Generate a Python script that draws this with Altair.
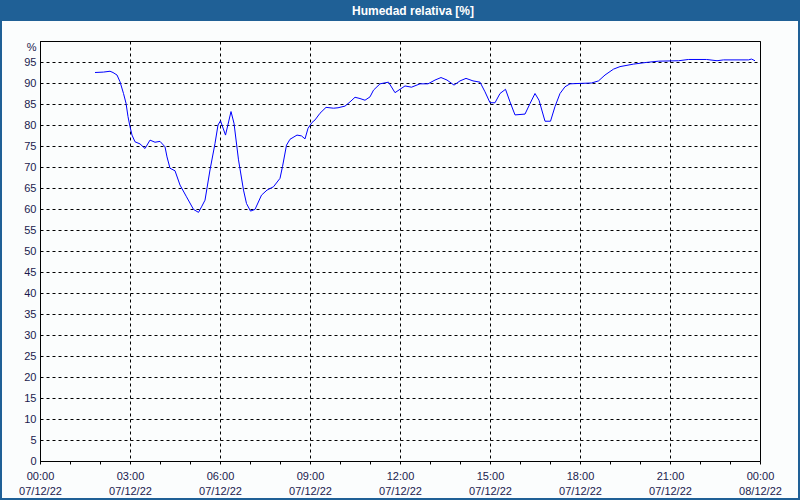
import altair as alt
import pandas as pd

# ---- data ----
times = ["01:50", "02:07", "02:20", "02:26", "02:34", "02:40", "02:47", "02:52", "02:56", "03:00",
         "03:04", "03:10", "03:20", "03:30", "03:40", "03:50", "04:00", "04:10", "04:14", "04:20",
         "04:30", "04:40", "04:53", "05:07", "05:17", "05:23", "05:30", "05:40", "05:50", "05:56",
         "06:01", "06:11", "06:22", "06:28", "06:37", "06:47", "06:53", "07:01", "07:10", "07:23",
         "07:34", "07:47", "08:00", "08:05", "08:13", "08:20", "08:34", "08:43", "08:50", "08:56",
         "09:04", "09:10", "09:20", "09:32", "09:47", "09:56", "10:10", "10:20", "10:30", "10:40",
         "10:50", "11:00", "11:07", "11:20", "11:37", "11:50", "12:00", "12:10", "12:23", "12:40",
         "12:56", "13:10", "13:22", "13:34", "13:48", "14:00", "14:12", "14:26", "14:40", "14:50",
         "15:00", "15:10", "15:20", "15:31", "15:40", "15:50", "16:10", "16:20", "16:30", "16:38",
         "16:50", "17:01", "17:10", "17:20", "17:30", "17:40", "18:00", "18:23", "18:37", "18:50",
         "19:07", "19:20", "19:47", "20:13", "20:37", "21:17", "21:37", "22:13", "22:34", "22:47",
         "23:37", "23:43", "23:50"]
humidity = [92.5, 92.6, 92.8, 92.5, 91.9, 90.3, 87.5, 85.2, 82.0, 79.6,
            77.6, 76.0, 75.5, 74.4, 76.4, 75.9, 76.1, 74.8, 72.4, 69.7,
            69.1, 65.7, 62.9, 59.9, 59.2, 60.5, 62.1, 69.3, 75.6, 80.0,
            81.0, 77.6, 83.2, 80.4, 71.7, 64.5, 61.3, 59.5, 59.9, 63.3,
            64.5, 65.3, 67.3, 70.1, 75.2, 76.6, 77.6, 77.4, 76.7, 79.2,
            80.6, 81.2, 82.8, 84.2, 84.0, 84.1, 84.5, 85.5, 86.6, 86.3,
            85.9, 86.7, 88.3, 89.8, 90.2, 87.7, 88.5, 89.3, 89.0, 89.8,
            89.8, 90.7, 91.3, 90.7, 89.5, 90.5, 91.1, 90.5, 90.2, 87.9,
            85.3, 85.3, 87.5, 88.5, 85.5, 82.4, 82.6, 85.1, 87.5, 85.9,
            80.9, 80.9, 84.4, 87.5, 89.1, 89.8, 89.9, 90.0, 90.5, 91.9,
            93.3, 93.9, 94.5, 94.9, 95.2, 95.3, 95.6, 95.6, 95.3, 95.5,
            95.5, 95.7, 95.3]
y_ticks = list(range(0, 101, 5))
x_hours = list(range(0, 25))
title_text = "Humedad relativa [%]"

df = pd.DataFrame({
    "t": ["2022-12-07T" + s + ":00Z" for s in times],
    "h": humidity,
})

BLUE = "#1f6096"
TXT = "#1a1a4e"
FONT = "Liberation Sans"

x_values = [alt.DateTime(year=2022, month=12, date=7 + h // 24, hours=h % 24, utc=True) for h in x_hours]

line = alt.Chart(df).mark_line(color="#0000ff", strokeWidth=1).encode(
    x=alt.X("t:T",
            scale=alt.Scale(type="utc", domain=[x_values[0], x_values[-1]]),
            axis=alt.Axis(
                values=x_values, title=None,
                labelExpr="utchours(datum.value) % 3 == 0 ? [utcFormat(datum.value, '%H:%M'), utcFormat(datum.value, '%d/%m/%y')] : ''",
                labelOverlap=False, labelFlush=False, labelBound=False,
                labelFont=FONT, labelFontSize=11, labelColor=TXT, labelLineHeight=15,
                labelPadding=6,
                tickSize=3, tickColor="black", domainColor="black",
                grid=True, gridColor="black", gridDash=[3, 3], gridWidth=1,
                gridOpacity={"condition": {"test": "utchours(datum.value) % 3 == 0", "value": 1}, "value": 0},
            )),
    y=alt.Y("h:Q",
            scale=alt.Scale(domain=[0, 100], nice=False, zero=True),
            axis=alt.Axis(
                values=y_ticks, title=None, ticks=False,
                labelExpr="datum.value == 100 ? '%' : datum.label",
                labelBaseline={"condition": {"test": "datum.value == 100", "value": "top"}, "value": "middle"},
                labelOverlap=False, labelFlush=False, labelBound=False,
                labelFont=FONT, labelFontSize=11, labelColor=TXT, labelPadding=4,
                domainColor="black",
                grid=True, gridColor="black", gridDash=[3, 3], gridWidth=1,
            )),
)

one = pd.DataFrame({"a": [0]})

bar = alt.Chart(one).mark_rect(color=BLUE).encode(
    x=alt.value(-40), x2=alt.value(760), y=alt.value(-41), y2=alt.value(-20)
)
border = alt.Chart(one).mark_rect(fill="transparent", stroke=BLUE, strokeWidth=2).encode(
    x=alt.value(-39), x2=alt.value(759), y=alt.value(-40), y2=alt.value(458)
)
title = alt.Chart(one).mark_text(
    color="white", font=FONT, fontSize=12, fontWeight="bold", align="center", baseline="middle"
).encode(x=alt.value(373), y=alt.value(-30.5), text=alt.value(title_text))

chart = alt.layer(line, bar, border, title).properties(
    width=720, height=420,
    autosize=alt.AutoSizeParams(type="none"),
    padding={"left": 40, "top": 41, "right": 40, "bottom": 39},
    background="#fbfdfd",
).configure_view(stroke="black", strokeWidth=1)

chart.save("out.html", embed_options={"renderer": "svg", "actions": False})
